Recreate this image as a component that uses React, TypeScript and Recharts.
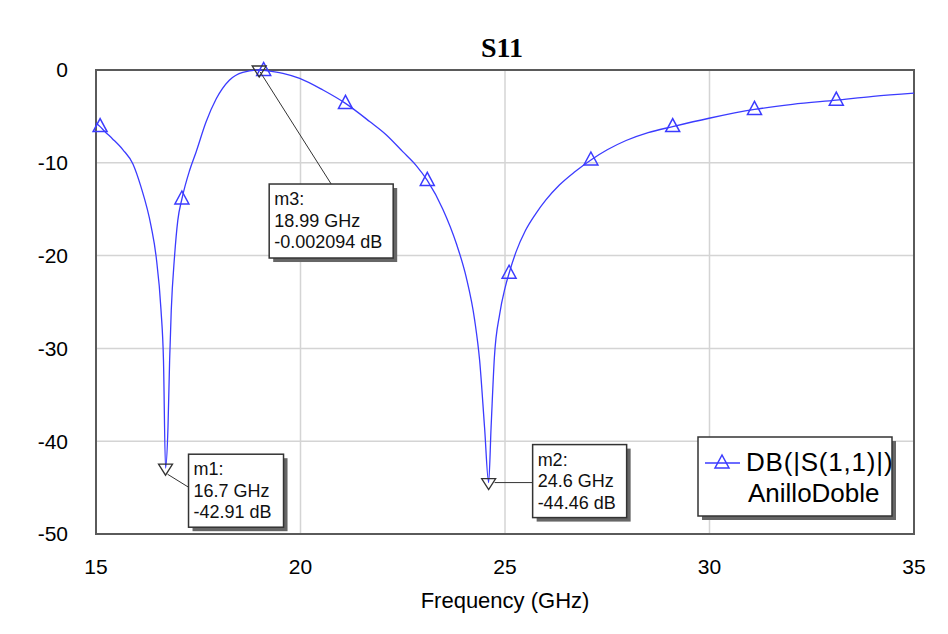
import React from "react";
import {
  ComposedChart,
  Line,
  Scatter,
  XAxis,
  YAxis,
  CartesianGrid,
  ReferenceArea,
  ReferenceDot,
} from "recharts";

// traced S11 curve (GHz, dB)
const freqGHz = [
  15.0, 15.1, 15.21, 15.4, 15.66, 15.9, 16.1, 16.35, 16.47, 16.59, 16.65, 16.7,
  16.76, 16.8, 16.84, 16.92, 17.0, 17.1, 17.29, 17.45, 17.69, 17.94, 18.26, 18.59,
  18.99, 19.1, 19.57, 19.98, 20.55, 21.1, 21.69, 22.1, 22.5, 22.83, 23.1, 23.48, 23.81,
  24.05, 24.26, 24.38, 24.5, 24.6, 24.66, 24.74, 24.87, 25.0, 25.1, 25.27, 25.5, 25.75,
  26.0, 26.33, 26.7, 27.1, 27.5, 27.96, 28.5, 29.1, 29.99, 31.1, 32.03, 33.1, 34.0, 35.0,
];
const s11dB = [
  -5.7, -6.1, -6.6, -7.4, -8.6, -10.1, -12.6, -16.9, -20.1, -25.9, -31.3, -42.91,
  -38.5, -31.3, -25.9, -20.1, -16.2, -13.9, -10.8, -8.8, -5.6, -3.1, -1.1, -0.25,
  -0.002, -0.05, -0.36, -0.9, -2.16, -3.6, -5.55, -7.0, -8.8, -10.3, -11.9, -15.0, -18.7,
  -22.3, -27.0, -31.3, -38.5, -44.46, -38.5, -31.0, -26.3, -23.5, -21.9, -19.6, -17.3, -15.5,
  -14.0, -12.4, -11.0, -9.7, -8.6, -7.6, -6.75, -6.1, -5.2, -4.25, -3.7, -3.25, -2.85, -2.5,
];

// triangle symbols along the trace
const symbolFreq = [15.1, 17.1, 19.1, 21.1, 23.1, 25.1, 27.1, 29.1, 31.1, 33.1];
const symbolDb = [-6.1, -13.9, -0.05, -3.6, -11.9, -21.9, -9.7, -6.1, -4.25, -3.25];

// markers
const markerNames = ["m1", "m2", "m3"];
const markerFreq = [16.7, 24.6, 18.99];
const markerDb = [-42.91, -44.46, -0.002094];

const xTicks = [15, 20, 25, 30, 35];
const yTicks = [0, -10, -20, -30, -40, -50];

const traceName = "DB(|S(1,1)|)";
const designName = "AnilloDoble";

const lineData = freqGHz.map((f, i) => ({ f, db: s11dB[i] }));
const symbolData = symbolFreq.map((f, i) => ({ f, db: symbolDb[i] }));

const BLUE = "#3b3bff";
const FONT = "'Liberation Sans', Arial, sans-serif";

// box placement relative to the marker point
const boxLayout = [
  { dx: 23, dy: -14, w: 95, h: 73, lx1: 2, ly1: 6, lx2: 23, ly2: 19 },
  { dx: 44, dy: -38, w: 94, h: 73, lx1: 6, ly1: 0, lx2: 44, ly2: 0 },
  { dx: 10, dy: 114, w: 124, h: 74, lx1: 1, ly1: 2, lx2: 72, ly2: 114 },
];

const UpTriangle = (props: any) => {
  const { cx, cy } = props;
  if (cx == null || cy == null) return null;
  return (
    <polygon
      points={`${cx},${cy - 8} ${cx - 7},${cy + 5} ${cx + 7},${cy + 5}`}
      fill="none"
      stroke={BLUE}
      strokeWidth={1.5}
    />
  );
};

const MarkerShape = (props: any) => {
  const { cx, cy, idx } = props;
  if (cx == null || cy == null) return null;
  const b = boxLayout[idx];
  const bx = cx + b.dx;
  const by = cy + b.dy;
  const lines = [
    `${markerNames[idx]}:`,
    `${markerFreq[idx]} GHz`,
    `${markerDb[idx]} dB`,
  ];
  return (
    <g>
      <line
        x1={cx + b.lx1}
        y1={cy + b.ly1}
        x2={cx + b.lx2}
        y2={cy + b.ly2}
        stroke="#333"
        strokeWidth={1}
      />
      <polygon
        points={`${cx - 7},${cy - 4} ${cx + 7},${cy - 4} ${cx},${cy + 7}`}
        fill="none"
        stroke="#333"
        strokeWidth={1.3}
      />
      <rect x={bx + 4} y={by + 4} width={b.w} height={b.h} fill="#666" />
      <rect x={bx} y={by} width={b.w} height={b.h} fill="#fff" stroke="#333" strokeWidth={1.5} />
      {lines.map((t, k) => (
        <text
          key={k}
          x={bx + 5}
          y={by + 21 + k * 21.5}
          fontFamily={FONT}
          fontSize={18}
          fill="#111"
        >
          {t}
        </text>
      ))}
    </g>
  );
};

export default function App() {
  return (
    <div style={{ position: "absolute", left: 0, top: 0, width: 948, height: 634, background: "#fff" }}>
      <ComposedChart
        width={948}
        height={634}
        margin={{ top: 70, right: 34, bottom: 0, left: 0 }}
      >
        <CartesianGrid stroke="#d4d4d4" strokeWidth={1.5} />
        <XAxis
          type="number"
          dataKey="f"
          domain={[15, 35]}
          ticks={xTicks}
          height={100}
          axisLine={false}
          tickLine={false}
          tickMargin={19}
          tick={{ fontSize: 21, fill: "#000", fontFamily: FONT }}
          label={{
            value: "Frequency (GHz)",
            position: "insideBottom",
            offset: 26,
            style: { fontSize: 22, fill: "#000", fontFamily: FONT },
          }}
        />
        <YAxis
          type="number"
          dataKey="db"
          domain={[-50, 0]}
          ticks={yTicks}
          width={96}
          axisLine={false}
          tickLine={false}
          tickMargin={22}
          tick={{ fontSize: 21, fill: "#000", fontFamily: FONT }}
        />
        <ReferenceArea x1={15} x2={35} y1={-50} y2={0} fill="none" stroke="#5a5a5a" strokeWidth={2} />
        <Line
          data={lineData}
          dataKey="db"
          type="monotoneX"
          stroke={BLUE}
          strokeWidth={1.3}
          dot={false}
          activeDot={false}
          isAnimationActive={false}
        />
        <Scatter data={symbolData} dataKey="db" shape={UpTriangle} isAnimationActive={false} />
        {markerNames.map((n, i) => (
          <ReferenceDot
            key={n}
            x={markerFreq[i]}
            y={markerDb[i]}
            r={0}
            shape={(p: any) => <MarkerShape {...p} idx={i} />}
          />
        ))}
      </ComposedChart>
      <svg
        width={948}
        height={634}
        style={{ position: "absolute", left: 0, top: 0, pointerEvents: "none" }}
      >
        <text
          x={502}
          y={57}
          textAnchor="middle"
          fontFamily="'Liberation Serif', 'Times New Roman', serif"
          fontWeight="bold"
          fontSize={28}
          fill="#000"
        >
          S11
        </text>
        <rect x={702} y={441} width={194} height={79} fill="#666" />
        <rect x={698} y={437} width={194} height={79} fill="#fff" stroke="#333" strokeWidth={1.5} />
        <line x1={705} y1={463} x2={740} y2={463} stroke={BLUE} strokeWidth={1.3} />
        <UpTriangle cx={722} cy={463} />
        <text x={746} y={471} fontFamily={FONT} fontSize={26} letterSpacing={0.8} fill="#000">
          {traceName}
        </text>
        <text x={748} y={502} fontFamily={FONT} fontSize={26} fill="#000">
          {designName}
        </text>
      </svg>
    </div>
  );
}
